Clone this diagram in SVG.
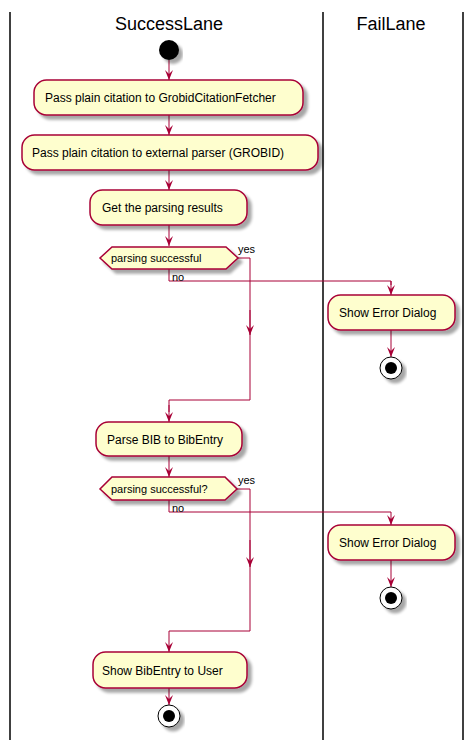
<svg xmlns="http://www.w3.org/2000/svg" width="474" height="740" viewBox="0 0 474 740">
<defs>
<filter id="sh" x="-10%" y="-10%" width="130%" height="140%">
<feGaussianBlur in="SourceAlpha" stdDeviation="1.7"/>
<feOffset dx="4" dy="4" result="b"/>
<feComponentTransfer><feFuncA type="linear" slope="0.35"/></feComponentTransfer>
<feMerge><feMergeNode/><feMergeNode in="SourceGraphic"/></feMerge>
</filter>
<marker id="ah" viewBox="0 0 10 10" refX="10" refY="5" markerWidth="10" markerHeight="10" orient="auto" markerUnits="userSpaceOnUse">
<path d="M0,1 L10,5 L0,9 L4,5 Z" fill="#A80036"/>
</marker>
</defs>
<style>
.lane{stroke:#000;stroke-width:1.5;fill:none}
.title{font-family:"Liberation Sans",Arial,sans-serif;font-size:18px;fill:#000}
.box{fill:#FEFECE;stroke:#A80036;stroke-width:1.5;filter:url(#sh)}
.t{font-family:"Liberation Sans",Arial,sans-serif;font-size:12px;fill:#000}
.s{font-family:"Liberation Sans",Arial,sans-serif;font-size:11px;fill:#000}
.c{stroke:#A80036;stroke-width:1;fill:none}
.ca{stroke:#A80036;stroke-width:1;fill:none;marker-end:url(#ah)}
</style>
<g id="lanes">
<line class="lane" x1="10" y1="12" x2="10" y2="740"/>
<line class="lane" x1="323" y1="12" x2="323" y2="740"/>
<line class="lane" x1="463" y1="12" x2="463" y2="740"/>
<text class="title" x="169" y="30" text-anchor="middle">SuccessLane</text>
<text class="title" x="391" y="30" text-anchor="middle">FailLane</text>
</g>
<g id="connectors">
<path class="ca" d="M169,60 V80"/>
<path class="ca" d="M169,115 V135"/>
<path class="ca" d="M169,170 V190"/>
<path class="ca" d="M169,225 V246"/>
<path class="c" d="M238,258 H250 V400 H169 V412"/>
<path class="ca" d="M250,310 V335"/>
<path class="ca" d="M169,405 V422"/>
<path class="c" d="M169,269 V281 H391 V285"/>
<path class="ca" d="M391,281 V295"/>
<path class="ca" d="M391,330 V357"/>
<path class="ca" d="M169,456 V477"/>
<path class="c" d="M237,489 H250 V631 H169"/>
<path class="ca" d="M250,540 V567"/>
<path class="ca" d="M169,631 V652"/>
<path class="c" d="M169,500 V512 H391"/>
<path class="ca" d="M391,512 V525"/>
<path class="ca" d="M391,560 V587"/>
<path class="ca" d="M169,688 V705"/>
<text class="s" x="238" y="253">yes</text>
<text class="s" x="172" y="281">no</text>
<text class="s" x="238" y="484">yes</text>
<text class="s" x="172" y="512">no</text>
</g>
<g id="start"><circle cx="169" cy="50" r="10" fill="#000" filter="url(#sh)"/></g>
<g id="a1"><rect class="box" x="34" y="80" width="269" height="35" rx="12.5"/><text class="t" x="45" y="102">Pass plain citation to GrobidCitationFetcher</text></g>
<g id="a2"><rect class="box" x="22" y="135" width="296" height="35" rx="12.5"/><text class="t" x="32" y="157">Pass plain citation to external parser (GROBID)</text></g>
<g id="a3"><rect class="box" x="90" y="190" width="157" height="35" rx="12.5"/><text class="t" x="102" y="212">Get the parsing results</text></g>
<g id="d1"><polygon class="box" points="112,247 226,247 238,258 226,269 112,269 100,258"/><text class="s" x="111" y="262">parsing successful</text></g>
<g id="e1"><rect class="box" x="328" y="295" width="127" height="35" rx="12.5"/><text class="t" x="339" y="317">Show Error Dialog</text></g>
<g id="end1"><circle cx="391" cy="368" r="11" fill="#fff" stroke="#000" stroke-width="1" filter="url(#sh)"/><circle cx="391" cy="368" r="6" fill="#000"/></g>
<g id="a4"><rect class="box" x="96" y="422" width="146" height="34" rx="12.5"/><text class="t" x="107" y="444">Parse BIB to BibEntry</text></g>
<g id="d2"><polygon class="box" points="112,477 225,477 237,489 225,500 112,500 100,489"/><text class="s" x="111" y="493">parsing successful?</text></g>
<g id="e2"><rect class="box" x="328" y="525" width="127" height="35" rx="12.5"/><text class="t" x="339" y="547">Show Error Dialog</text></g>
<g id="end2"><circle cx="391" cy="598" r="11" fill="#fff" stroke="#000" stroke-width="1" filter="url(#sh)"/><circle cx="391" cy="598" r="6" fill="#000"/></g>
<g id="a5"><rect class="box" x="93" y="652" width="154" height="36" rx="12.5"/><text class="t" x="102" y="675">Show BibEntry to User</text></g>
<g id="end3"><circle cx="169" cy="716" r="11" fill="#fff" stroke="#000" stroke-width="1" filter="url(#sh)"/><circle cx="169" cy="716" r="6" fill="#000"/></g>
</svg>
